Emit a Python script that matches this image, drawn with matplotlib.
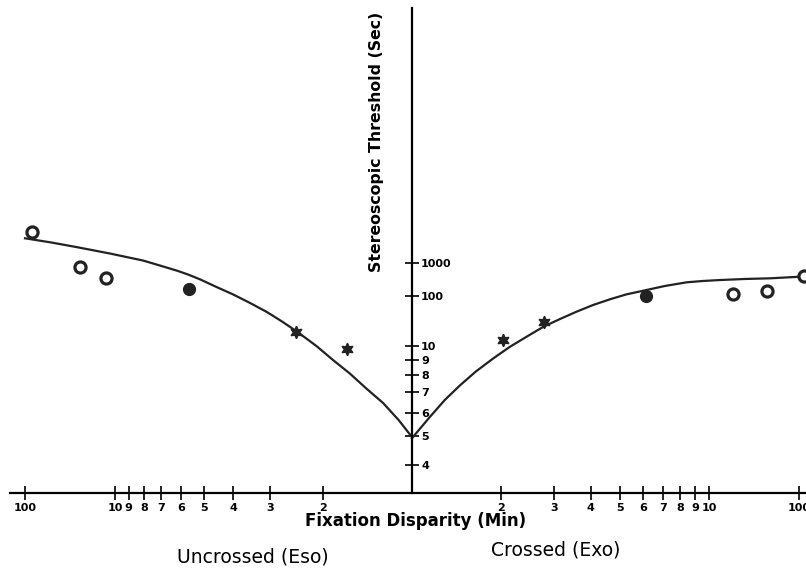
import numpy as np
import matplotlib
matplotlib.use('Agg')
import matplotlib.pyplot as plt

# fixation disparity in min: negative = uncrossed (eso), positive = crossed (exo)
# stereoscopic threshold in sec of arc
open_x = [-83, -24.5, -12.7, 18.6, 44, 114]
open_y = [8260, 731, 360, 116, 149, 406]
filled_x = [-5.63, 6.14]
filled_y = [167, 106]
star_x = [-2.46, -1.65, 2.03, 2.79]
star_y = [19.5, 9.8, 13.2, 31]

# fitted curve
curve_left_x = [-100, -52.7, -26.4, -11.4, -8.05, -7.06, -6.18, -5.68, -5.17, -4.57, -4.01, -3.51,
                -3.08, -2.74, -2.46, -2.27, -2.09, -1.85, -1.62, -1.43, -1.25, -1.11, -1.0]
curve_left_y = [5270, 4020, 2880, 1870, 1160, 826, 580, 448, 321, 194, 116, 74,
                48.6, 31.3, 20.2, 14.2, 9.97, 9.0, 8.1, 7.24, 6.45, 5.67, 4.97]
curve_right_x = [1.0, 1.15, 1.29, 1.45, 1.64, 1.88, 2.14, 2.44, 2.77, 3.15, 3.58, 4.07,
                 4.64, 5.26, 6.01, 7.11, 8.41, 9.55, 13.2, 25.1, 47.6, 102.6]
curve_right_y = [4.93, 5.81, 6.61, 7.39, 8.22, 9.1, 9.95, 15.6, 24.5, 35.1, 49.3, 67.3,
                 87.8, 115, 148.6, 205, 263, 288, 307, 330, 345, 385]

x_ticks = [-100, -10, -9, -8, -7, -6, -5, -4, -3, -2, 2, 3, 4, 5, 6, 7, 8, 9, 10, 100]
x_labels = [str(abs(v)) for v in x_ticks]
y_ticks = [4, 5, 6, 7, 8, 9, 10, 100, 1000]
y_labels = [str(v) for v in y_ticks]

# the original axes are log scales with squeezed upper decades
X_LOG = [0, 1, 2, 3]
X_POS = [0, 297, 387, 477]
Y_LOG = [-1, 0, 1, 2, 3, 13]
Y_POS = [-600, -300, 0, 49.5, 83.3, 421.3]


def x_fwd(x):
    x = np.asarray(x, float)
    a = np.log10(np.maximum(np.abs(x), 1.0))
    return np.sign(x) * np.interp(a, X_LOG, X_POS)


def x_inv(u):
    u = np.asarray(u, float)
    return np.sign(u) * 10 ** np.interp(np.abs(u), X_POS, X_LOG)


def y_fwd(y):
    y = np.asarray(y, float)
    return np.interp(np.log10(np.maximum(y, 1e-3)), Y_LOG, Y_POS)


def y_inv(v):
    return 10 ** np.interp(np.asarray(v, float), Y_POS, Y_LOG)


W, H = 806, 570
fig = plt.figure(figsize=(W / 100, H / 100), dpi=100)
ax = fig.add_axes([10 / W, 77 / H, 796 / W, 485 / H])
ax.set_xscale('function', functions=(x_fwd, x_inv))
ax.set_yscale('function', functions=(y_fwd, y_inv))
ax.set_xlim(float(x_inv(-402)), float(x_inv(394)))
ax.set_ylim(float(y_inv(-147)), float(y_inv(338)))

ax.plot(curve_left_x, curve_left_y, color='#222222', lw=1.6, solid_joinstyle='round')
ax.plot(curve_right_x, curve_right_y, color='#222222', lw=1.6, solid_joinstyle='round')

ax.plot(open_x, open_y, 'o', ms=8, mfc='white', mec='#222222', mew=2.3, clip_on=False)
ax.plot(filled_x, filled_y, 'o', ms=8.5, color='#222222', clip_on=False)
ax.plot(star_x, star_y, marker=(6, 1, 0), ls='none', ms=9, color='#222222', clip_on=False)

for s in ['top', 'left']:
    ax.spines[s].set_visible(False)
ax.spines['bottom'].set_linewidth(1.6)
ax.spines['right'].set_position(('data', 0))
ax.spines['right'].set_linewidth(1.6)
ax.yaxis.tick_right()

ax.set_xticks(x_ticks)
ax.set_xticklabels(x_labels)
ax.set_yticks(y_ticks)
ax.set_yticklabels(y_labels)
ax.minorticks_off()
ax.tick_params(axis='x', direction='inout', length=10, width=1.2, pad=2, labelsize=8)
ax.tick_params(axis='y', direction='inout', length=10, width=1.2, pad=1.5, labelsize=8)
for t in ax.get_xticklabels() + ax.get_yticklabels():
    t.set_fontweight('bold')

fig.text(376 / W, 1 - 142 / H, 'Stereoscopic Threshold (Sec)', rotation=90,
         ha='center', va='center', fontsize=11.3, fontweight='bold')
fig.text(416 / W, 1 - 521 / H, 'Fixation Disparity (Min)',
         ha='center', va='center', fontsize=12, fontweight='bold')
fig.text(253 / W, 1 - 557 / H, 'Uncrossed (Eso)', ha='center', va='center', fontsize=13.5)
fig.text(556 / W, 1 - 550 / H, 'Crossed (Exo)', ha='center', va='center', fontsize=13.5)

fig.savefig('out.png', dpi=100)
